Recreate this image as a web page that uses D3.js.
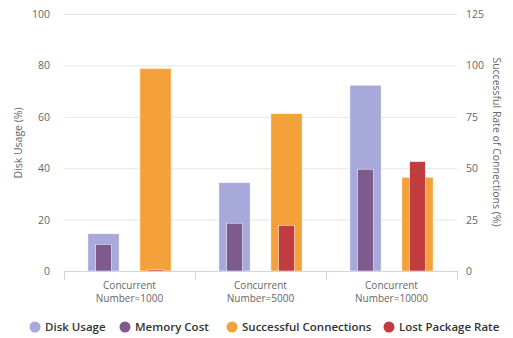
<!DOCTYPE html>
<html>
<head>
<meta charset="utf-8">
<script src="https://cdn.jsdelivr.net/npm/d3@7"></script>
<style>
  body { margin: 0; background: #fff; }
  svg text { font-family: "Open Sans", "DejaVu Sans", sans-serif; }
</style>
</head>
<body>
<svg id="chart" width="513" height="338"></svg>
<script>
// chart data
const categories = ["Concurrent\nNumber=1000", "Concurrent\nNumber=5000", "Concurrent\nNumber=10000"];
const diskUsage = [14.5, 34.4, 72.3];
const memoryCost = [10.4, 18.6, 39.6];
const successfulConn = [98.5, 76.5, 45.6];
const lostPackage = [0.6, 22.2, 53.2];
const leftTicks = [0, 20, 40, 60, 80, 100];
const rightTicks = [0, 25, 50, 75, 100, 125];

const series = [
  { name: "Disk Usage", values: diskUsage, color: "#a6a9d9", axis: "left", slot: "a", wide: true },
  { name: "Memory Cost", values: memoryCost, color: "#7e5a8e", axis: "left", slot: "a", wide: false },
  { name: "Successful Connections", values: successfulConn, color: "#f5a13b", axis: "right", slot: "b", wide: true },
  { name: "Lost Package Rate", values: lostPackage, color: "#c13c3f", axis: "right", slot: "b", wide: false }
];

const svg = d3.select("#chart");
const plot = { left: 64, right: 457, top: 14, bottom: 271 };

const x = d3.scaleBand().domain(categories).range([plot.left, plot.right]).padding(0);
const slot = d3.scaleBand().domain(["a", "b"]).range([0, x.bandwidth()])
  .paddingInner(0.4).paddingOuter(0.46);
const yLeft = d3.scaleLinear().domain([0, 100]).range([plot.bottom, plot.top]);
const yRight = d3.scaleLinear().domain([0, 125]).range([plot.bottom, plot.top]);

// gridlines
svg.append("g").selectAll("line").data(leftTicks.slice(1)).enter().append("line")
  .attr("x1", plot.left).attr("x2", plot.right)
  .attr("y1", d => yLeft(d) + 0.5).attr("y2", d => yLeft(d) + 0.5)
  .attr("stroke", "#e6e6e6");

// bars
series.forEach(s => {
  const bw = slot.bandwidth();
  const w = s.wide ? bw : bw / 2;
  const y = s.axis === "left" ? yLeft : yRight;
  svg.append("g").selectAll("rect").data(s.values).enter().append("rect")
    .attr("x", (d, i) => x(categories[i]) + slot(s.slot) + (bw - w) / 2)
    .attr("width", w)
    .attr("y", d => y(d))
    .attr("height", d => plot.bottom - y(d))
    .attr("fill", s.color)
    .attr("stroke", "#fff").attr("stroke-width", 0.5);
});

// x axis line and ticks
const xAxisG = svg.append("g");
xAxisG.append("line")
  .attr("x1", plot.left).attr("x2", plot.right)
  .attr("y1", plot.bottom + 0.5).attr("y2", plot.bottom + 0.5)
  .attr("stroke", "#ccd6eb");
const tickXs = categories.map(c => x(c)).concat([plot.right]);
xAxisG.selectAll(".tk").data(tickXs).enter().append("line")
  .attr("x1", d => Math.round(d) + 0.5).attr("x2", d => Math.round(d) + 0.5)
  .attr("y1", plot.bottom).attr("y2", plot.bottom + 9)
  .attr("stroke", "#ccd6eb");
categories.forEach(c => {
  c.split("\n").forEach((line, i) => {
    xAxisG.append("text")
      .attr("x", x(c) + x.bandwidth() / 2)
      .attr("y", 288.5 + i * 13)
      .attr("text-anchor", "middle")
      .attr("font-size", 10)
      .attr("fill", "#666")
      .text(line);
  });
});

// y axis labels
svg.append("g").selectAll("text").data(leftTicks).enter().append("text")
  .attr("x", 50).attr("y", d => yLeft(d) + 4)
  .attr("text-anchor", "end").attr("font-size", 10.5).attr("fill", "#666")
  .text(d => d);
svg.append("g").selectAll("text").data(rightTicks).enter().append("text")
  .attr("x", 466).attr("y", d => yRight(d) + 4)
  .attr("text-anchor", "start").attr("font-size", 10.5).attr("fill", "#666")
  .text(d => d);

// axis titles
svg.append("text")
  .attr("transform", "translate(22,143) rotate(-90)")
  .attr("text-anchor", "middle").attr("font-size", 10.5).attr("fill", "#666")
  .text("Disk Usage (%)");
svg.append("text")
  .attr("transform", "translate(493,142) rotate(90)")
  .attr("text-anchor", "middle").attr("font-size", 10.5).attr("fill", "#666")
  .text("Successful Rate of Connections (%)");

// legend
const legendX = [35, 125, 232, 389];
const legend = svg.append("g");
series.forEach((s, i) => {
  legend.append("circle")
    .attr("cx", legendX[i]).attr("cy", 327).attr("r", 5.5)
    .attr("fill", s.color);
  legend.append("text")
    .attr("x", legendX[i] + 10).attr("y", 331)
    .attr("font-size", 11.5).attr("font-weight", 600).attr("fill", "#333")
    .text(s.name);
});
</script>
</body>
</html>
